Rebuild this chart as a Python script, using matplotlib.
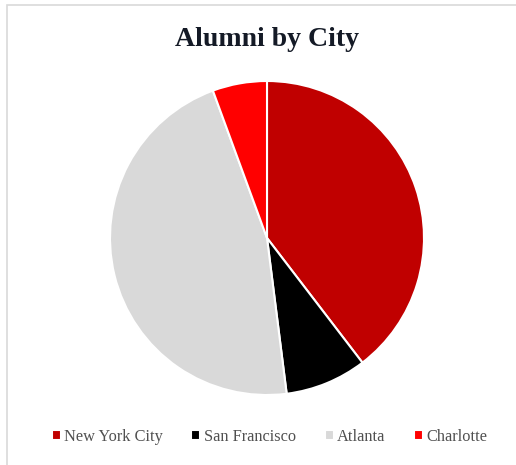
import matplotlib
matplotlib.use("Agg")
import matplotlib.pyplot as plt
from matplotlib.patches import Rectangle

cities = ["New York City", "San Francisco", "Atlanta", "Charlotte"]
alumni = [39.6, 8.4, 46.4, 5.6]
colors = ["#C00000", "#000000", "#D9D9D9", "#FF0000"]

W, H = 516, 465
fig = plt.figure(figsize=(W / 100, H / 100), dpi=100)
fig.patch.set_facecolor("white")

# light frame like the spreadsheet chart area
fig.add_artist(Rectangle((7 / W, -0.05), 1.2, 1 - 5 / H + 0.05,
                         transform=fig.transFigure, fill=False,
                         edgecolor="#D9D9D9", linewidth=1.2))

ax = fig.add_axes([110 / W, (H - 395) / H, 314 / W, 314 / H])
wedges, _ = ax.pie(alumni, colors=colors, startangle=90, counterclock=False,
                   wedgeprops=dict(edgecolor="white", linewidth=1.5))
ax.set_xlim(-1, 1)
ax.set_ylim(-1, 1)

fig.text(0.517, 1 - 39 / H, "Alumni by City", ha="center", va="center",
         fontsize=20, fontweight="bold", family="Liberation Serif",
         color="#141a26")

fig.legend(wedges, cities, loc="center", bbox_to_anchor=(0.522, 1 - 437 / H),
           ncol=4, frameon=False, handlelength=0.55, handleheight=0.55,
           handletextpad=0.2, columnspacing=1.75,
           prop={"family": "Liberation Serif", "size": 11.8},
           labelcolor="#505050")

fig.savefig("out.png", dpi=100)
